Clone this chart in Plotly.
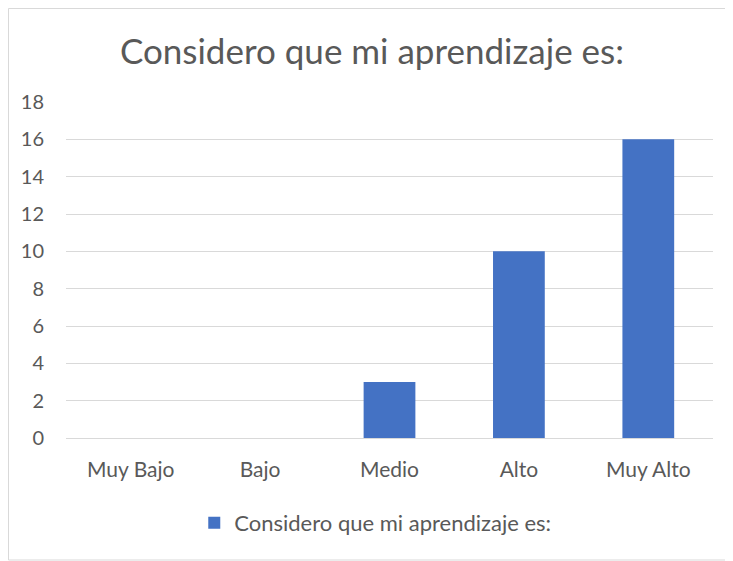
import plotly.graph_objects as go

categories = ["Muy Bajo", "Bajo", "Medio", "Alto", "Muy Alto"]
values = [0, 0, 3, 10, 16]
series_name = "Considero que mi aprendizaje es:"
y_ticks = [0, 2, 4, 6, 8, 10, 12, 14, 16, 18]

font_family = "Lato, Open Sans, sans-serif"
text_color = "#595959"

# page has an 8px body margin, so the figure is drawn 8px smaller
W, H = 725, 553
L, R, T, B = 58, 20, 94, 123
pw, ph = W - L - R, H - T - B

fig = go.Figure()

fig.add_trace(
    go.Bar(
        x=categories,
        y=values,
        name=series_name,
        marker=dict(color="#4472c4", line=dict(width=0)),
        showlegend=True,
    )
)

fig.update_layout(
    width=W,
    height=H,
    margin=dict(l=L, r=R, t=T, b=B),
    paper_bgcolor="white",
    plot_bgcolor="white",
    font=dict(family=font_family, color=text_color, size=21),
    bargap=0.6,
    title=dict(
        text=series_name,
        x=0.502,
        xanchor="center",
        xref="container",
        y=1 - 43.5 / H,
        yanchor="middle",
        font=dict(size=35, color=text_color, family=font_family),
    ),
    showlegend=True,
    legend=dict(
        orientation="h",
        x=0.478,
        xanchor="center",
        y=(430 - 515) / ph,
        yanchor="middle",
        font=dict(size=22, color=text_color),
        itemwidth=30,
    ),
    shapes=[
        dict(
            type="rect",
            xref="paper",
            yref="paper",
            x0=(0.5 - L) / pw,
            x1=(724 - L) / pw,
            y0=(T + ph - 552) / ph,
            y1=(T + ph - 0.5) / ph,
            line=dict(color="#d9d9d9", width=1),
            fillcolor="rgba(0,0,0,0)",
            layer="below",
        )
    ],
)

fig.update_xaxes(
    showgrid=False,
    showline=True,
    linecolor="#d9d9d9",
    linewidth=1,
    ticks="",
    tickfont=dict(size=21, color=text_color),
    ticklabelstandoff=13,
)

fig.update_yaxes(
    range=[0, 18],
    tickvals=y_ticks,
    showgrid=True,
    gridcolor="#d9d9d9",
    gridwidth=1,
    zeroline=False,
    showline=False,
    ticks="",
    tickfont=dict(size=20, color=text_color),
    ticklabelstandoff=21,
)

fig.write_html("out.html")
